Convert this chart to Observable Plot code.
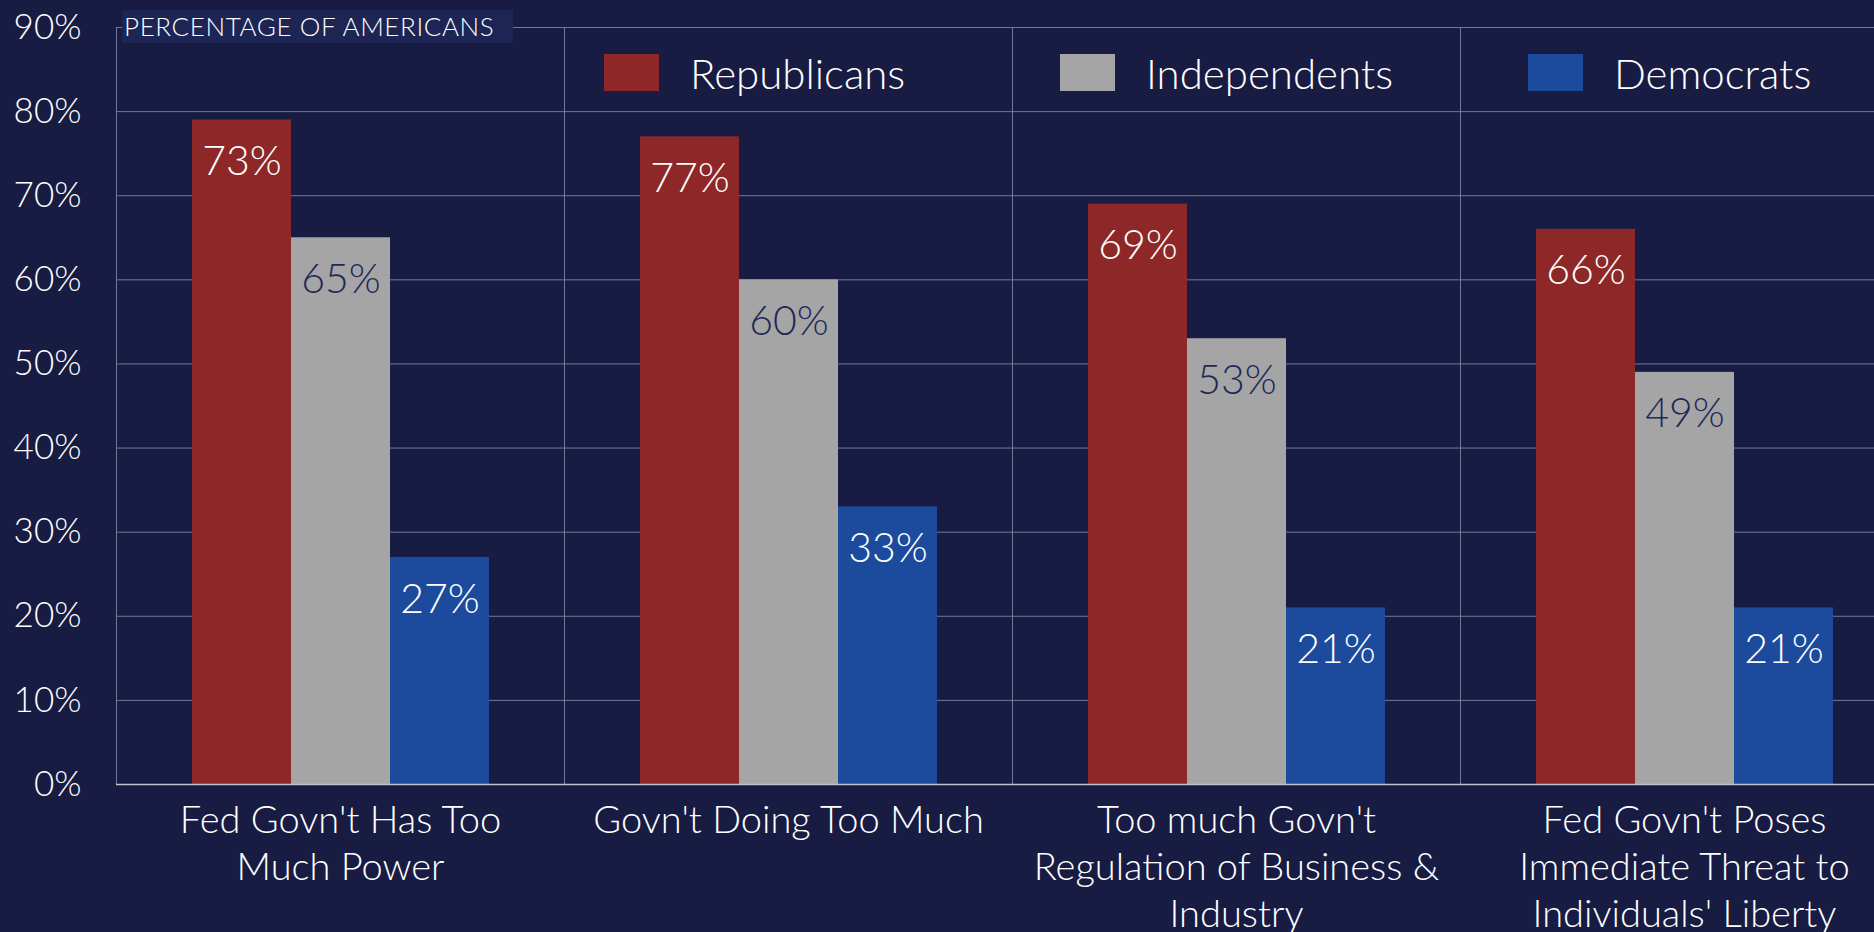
<!DOCTYPE html>
<html>
<head>
<meta charset="utf-8">
<script src="https://cdn.jsdelivr.net/npm/d3@7"></script>
<script src="https://cdn.jsdelivr.net/npm/@observablehq/plot@0.6"></script>
<style>
  html, body { margin: 0; padding: 0; background: #181c43; overflow: hidden; }
  #wrap { position: relative; width: 1908px; height: 932px; font-family: Lato, "Open Sans", sans-serif; font-weight: 300; color: #ffffff; }
  #chart svg { display: block; }
  .tag { position: absolute; left: 122px; top: 10px; width: 389px; height: 33px; background: #1c2554; font-size: 26px; line-height: 33px; padding-left: 2px; letter-spacing: 0.6px; white-space: nowrap; }
  .leg { position: absolute; top: 54px; height: 37px; display: flex; align-items: center; font-size: 42px; white-space: nowrap; }
  .leg .sw { width: 55px; height: 37px; margin-right: 31px; }
</style>
</head>
<body>
<div id="wrap">
  <div id="chart"></div>
</div>
<script>
// ---- data ----
const categories = [
  "Fed Govn't Has Too Much Power",
  "Govn't Doing Too Much",
  "Too much Govn't Regulation of Business & Industry",
  "Fed Govn't Poses Immediate Threat to Individuals' Liberty"
];
const categoryTickLabels = [
  "Fed Govn't Has Too\nMuch Power",
  "Govn't Doing Too Much",
  "Too much Govn't\nRegulation of Business &\nIndustry",
  "Fed Govn't Poses\nImmediate Threat to\nIndividuals' Liberty"
];
const parties = ["Republicans", "Independents", "Democrats"];
const republicans = [79, 77, 69, 66];
const independents = [65, 60, 53, 49];
const democrats = [27, 33, 21, 21];
const republicanLabels = ["73%", "77%", "69%", "66%"];
const independentLabels = ["65%", "60%", "53%", "49%"];
const democratLabels = ["27%", "33%", "21%", "21%"];
const yTicks = [0, 10, 20, 30, 40, 50, 60, 70, 80, 90];
const yTickLabels = ["0%", "10%", "20%", "30%", "40%", "50%", "60%", "70%", "80%", "90%"];
const partyColors = ["#8e2828", "#a5a5a5", "#1c4a9d"];
const labelColors = ["#ffffff", "#1f2859", "#ffffff"];
const tagText = "PERCENTAGE OF AMERICANS";

// ---- table built from arrays ----
const seriesValues = [republicans, independents, democrats];
const seriesLabels = [republicanLabels, independentLabels, democratLabels];
const rows = [];
categories.forEach((c, i) => {
  parties.forEach((p, j) => {
    rows.push({category: c, party: p, value: seriesValues[j][i], label: seriesLabels[j][i], labelColor: labelColors[j]});
  });
});

const gridColor = "#73789a";

const chart = Plot.plot({
  width: 1908,
  height: 932,
  marginLeft: 116,
  marginRight: 0,
  marginTop: 27,
  marginBottom: 148,
  style: {background: "transparent", color: "#ffffff", fontFamily: "Lato, 'Open Sans', sans-serif", fontWeight: 300, fontSize: "36px", overflow: "visible"},
  fx: {domain: categories, padding: 0, label: null},
  x: {domain: parties, paddingInner: 0, paddingOuter: 0.75, axis: null},
  y: {domain: [0, 90], label: null},
  color: {domain: parties, range: partyColors},
  marks: [
    Plot.gridY(yTicks, {stroke: gridColor, strokeOpacity: 1, strokeWidth: 1}),
    Plot.frame({stroke: gridColor, strokeWidth: 1}),
    Plot.barY(rows, {fx: "category", x: "party", y: "value", fill: "party"}),
    Plot.text(rows, {fx: "category", x: "party", y: "value", text: "label", fill: "labelColor", dy: 42, fontSize: 41, fontWeight: 300, lineAnchor: "middle"}),
    Plot.ruleY([0], {stroke: "#c4c4cc", strokeWidth: 1.5}),
    Plot.axisY(yTicks, {tickSize: 0, tickPadding: 35, fontSize: 35, fontWeight: 300, label: null, tickFormat: (d) => yTickLabels[yTicks.indexOf(d)], fill: "#ffffff"}),
    Plot.axisFx({anchor: "bottom", tickSize: 0, tickPadding: 15, fontSize: 38, fontWeight: 300, lineHeight: 1.24, label: null, tickFormat: (c) => categoryTickLabels[categories.indexOf(c)], fill: "#ffffff"})
  ]
});
const wrap = document.getElementById("wrap");
document.getElementById("chart").appendChild(chart);

// title tag
const tag = document.createElement("div");
tag.className = "tag";
tag.textContent = tagText;
wrap.appendChild(tag);

// legend
const legendLefts = [604, 1060, 1528];
parties.forEach((p, j) => {
  const item = document.createElement("div");
  item.className = "leg";
  item.style.left = legendLefts[j] + "px";
  const sw = document.createElement("div");
  sw.className = "sw";
  sw.style.background = partyColors[j];
  const t = document.createElement("span");
  t.textContent = p;
  item.appendChild(sw);
  item.appendChild(t);
  wrap.appendChild(item);
});
</script>
</body>
</html>
